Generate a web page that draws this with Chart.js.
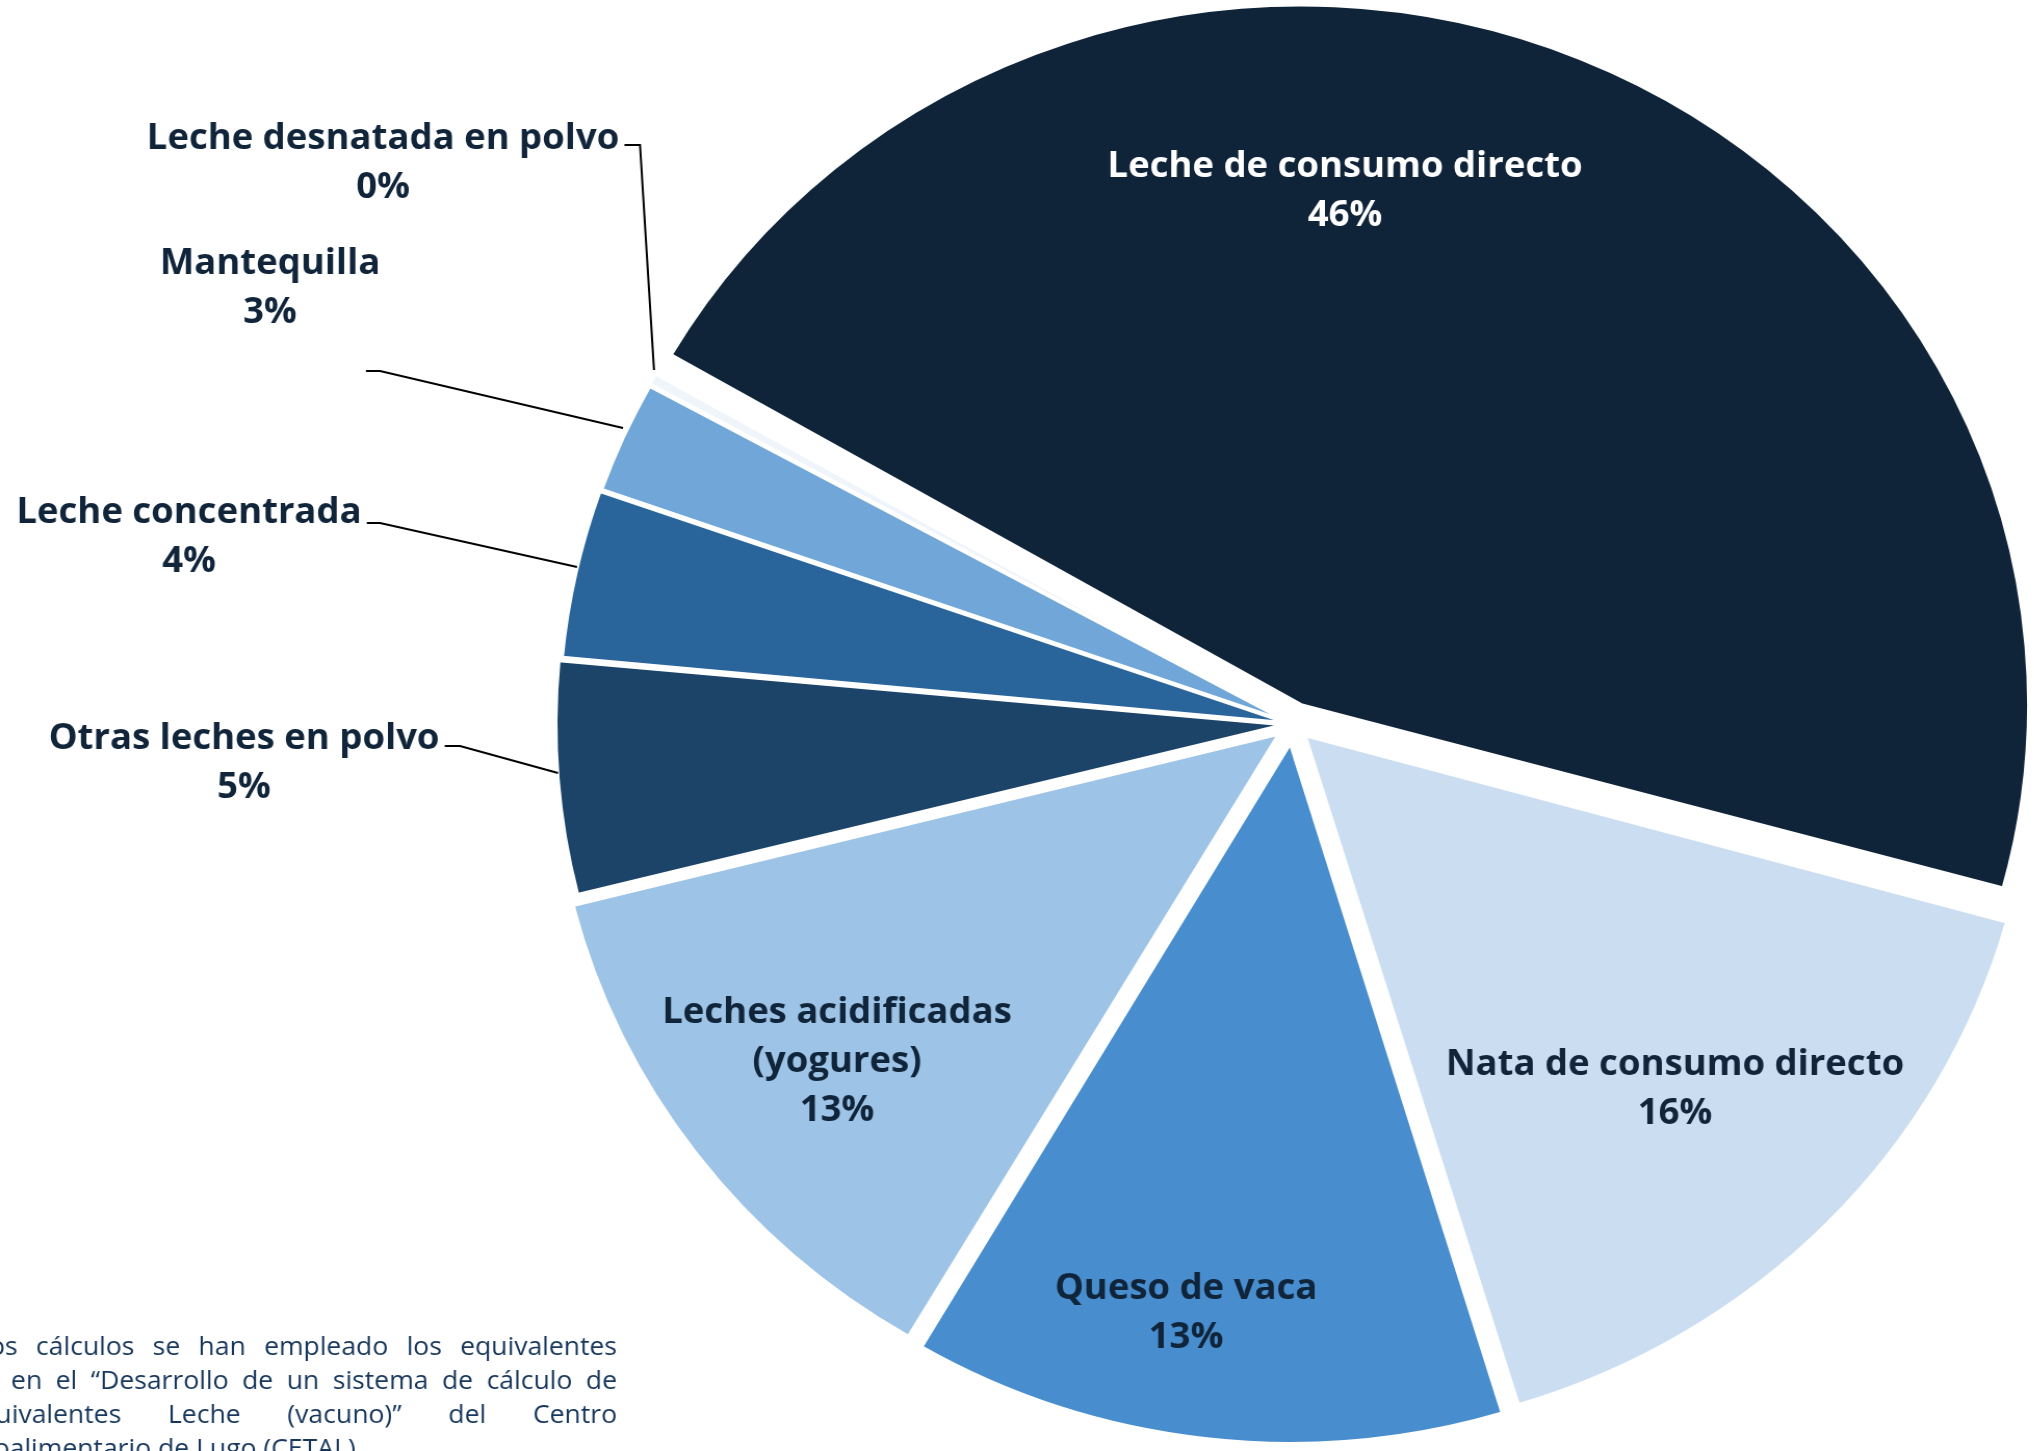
<!DOCTYPE html>
<html lang="es">
<head>
<meta charset="utf-8">
<title>Destino de la leche de vaca</title>
<script src="https://cdn.jsdelivr.net/npm/chart.js@4.4.1/dist/chart.umd.min.js"></script>
<style>
  html, body { margin: 0; padding: 0; background: #fff; overflow: hidden; }
  /* the reference picture is slightly stretched horizontally */
  #wrap { width: 1956px; height: 1451px; transform: scaleX(1.04); transform-origin: 0 0; }
</style>
</head>
<body>
<div id="wrap"><canvas id="pie" width="1956" height="1451"></canvas></div>
<script>
const categories = [
    "Leche de consumo directo",
    "Nata de consumo directo",
    "Queso de vaca",
    "Leches acidificadas (yogures)",
    "Otras leches en polvo",
    "Leche concentrada",
    "Mantequilla",
    "Leche desnatada en polvo",
];
const shares = [46.0, 16.0, 13.2, 12.6, 5.4, 3.9, 2.6, 0.3];

const sliceColors = ["#0F2439", "#CBDEF1", "#488ECE", "#9DC3E6", "#1C4468", "#29659B", "#70A7D8", "#EFF5FB"];
const labelColors = ["#FFFFFF", "#10243A", "#10243A", "#10243A", "#10243A", "#10243A", "#10243A", "#10243A"];
const explode = [21, 17, 20, 17, 9, 6, 5, 6]; // px each slice is pulled out

const footnote = [
    "Para los cálculos se han empleado los equivalentes",
    "recogidos en el “Desarrollo de un sistema de cálculo de",
    "Equivalentes Leche (vacuno)” del Centro",
    "Agroalimentario de Lugo (CETAL).",
];

const STRETCH = 1.04;
const RADIUS = 699.5;
const BORDER = 3;

// label spots in page pixels (x centre, y of first line)
const labelSpots = [
    { x: 1345, y: 167 },
    { x: 1675, y: 1065 },
    { x: 1186, y: 1289 },
    { x: 837, y: 1013 },
    { x: 244, y: 739, leader: [[0, 746], [460, 746], [558, 773]], attach: true },
    { x: 189, y: 513, leader: [[0, 523], [380, 523], [577, 567]], attach: true },
    { x: 270, y: 264, leader: [[366, 371], [380, 371], [623, 428]] },
    { x: 383, y: 139, leader: [[0, 145], [640, 145], [654, 370]], attach: true },
];
// footnote: first fully visible word index and its x; lines are justified to FOOT_RIGHT
const footSpots = [
    { anchor: 2, x: 36, y: 1348, justify: true },
    { anchor: 1, x: 11, y: 1382, justify: true },
    { anchor: 1, x: 168, y: 1416, justify: true },
    { anchor: 1, x: 158, y: 1450, justify: false },
];
const FOOT_RIGHT = 617;

const total = shares.reduce((a, b) => a + b, 0);

// Chart.js grows the radius of offset slices; undo that so all share one radius
const keepRadius = {
    id: "keepRadius",
    beforeDatasetsDraw(chart) {
        chart.getDatasetMeta(0).data.forEach((arc) => {
            const off = (arc.options.offset || 0) / 4;
            const fix = 1 - Math.sin(Math.min(Math.PI, arc.circumference));
            arc.outerRadius = RADIUS - off * fix;
        });
    },
};

const labelsPlugin = {
    id: "sliceLabels",
    afterDraw(chart) {
        const ctx = chart.ctx;
        ctx.save();
        ctx.textAlign = "center";
        ctx.textBaseline = "middle";
        ctx.font = 'bold 40px "Open Sans"';
        const fitSize = 40 * (457 / ctx.measureText(categories[0]).width);
        ctx.font = `bold ${fitSize}px "Open Sans"`;
        const lineH = 49;

        categories.forEach((name, i) => {
            const spot = labelSpots[i];
            const lines = name.replace(" (", "\n(").split("\n");
            lines.push(Math.round((shares[i] / total) * 100) + "%");
            const cx = spot.x / STRETCH;
            ctx.fillStyle = labelColors[i];
            lines.forEach((t, k) => ctx.fillText(t, cx, spot.y + k * lineH));

            if (spot.leader) {
                const pts = spot.leader.map((p) => [p[0] / STRETCH, p[1]]);
                if (spot.attach) {
                    pts[0][0] = cx + ctx.measureText(lines[0]).width / 2 + 5;
                }
                ctx.beginPath();
                ctx.strokeStyle = "#000000";
                ctx.lineWidth = 2;
                pts.forEach((p, k) => (k ? ctx.lineTo(p[0], p[1]) : ctx.moveTo(p[0], p[1])));
                ctx.stroke();
            }
        });

        // footnote, justified and cut by the left edge like the source
        ctx.font = '25.5px "Open Sans"';
        ctx.fillStyle = "#16365C";
        ctx.textAlign = "left";
        const right = FOOT_RIGHT / STRETCH;
        footnote.forEach((line, i) => {
            const spot = footSpots[i];
            const words = line.split(" ");
            const widths = words.map((w) => ctx.measureText(w).width);
            const ax = spot.x / STRETCH;
            let gap = ctx.measureText(" ").width;
            if (spot.justify) {
                const tail = widths.slice(spot.anchor).reduce((a, b) => a + b, 0);
                gap = (right - ax - tail) / (words.length - 1 - spot.anchor);
            }
            let x = ax;
            for (let k = spot.anchor; k < words.length; k++) {
                ctx.fillText(words[k], x, spot.y);
                x += widths[k] + gap;
            }
            x = ax;
            for (let k = spot.anchor - 1; k >= 0; k--) {
                x -= gap + widths[k];
                ctx.fillText(words[k], x, spot.y);
            }
        });
        ctx.restore();
    },
};

const configPie = {
    type: "pie",
    data: {
        labels: categories,
        datasets: [
            {
                data: shares,
                backgroundColor: sliceColors,
                borderColor: "#FFFFFF",
                borderWidth: BORDER,
                offset: explode.map((v) => v * 4),
            },
        ],
    },
    options: {
        responsive: false,
        animation: false,
        events: [],
        devicePixelRatio: 1,
        rotation: -60.2,
        radius: RADIUS,
        layout: { padding: { left: 530, right: 0, top: 0, bottom: 3 } },
        plugins: {
            legend: { display: false },
            tooltip: { enabled: false },
        },
    },
    plugins: [keepRadius, labelsPlugin],
};

Promise.all([
    document.fonts.load('bold 40px "Open Sans"'),
    document.fonts.load('25.5px "Open Sans"'),
]).finally(() => {
    new Chart(document.getElementById("pie"), configPie);
});
</script>
</body>
</html>
